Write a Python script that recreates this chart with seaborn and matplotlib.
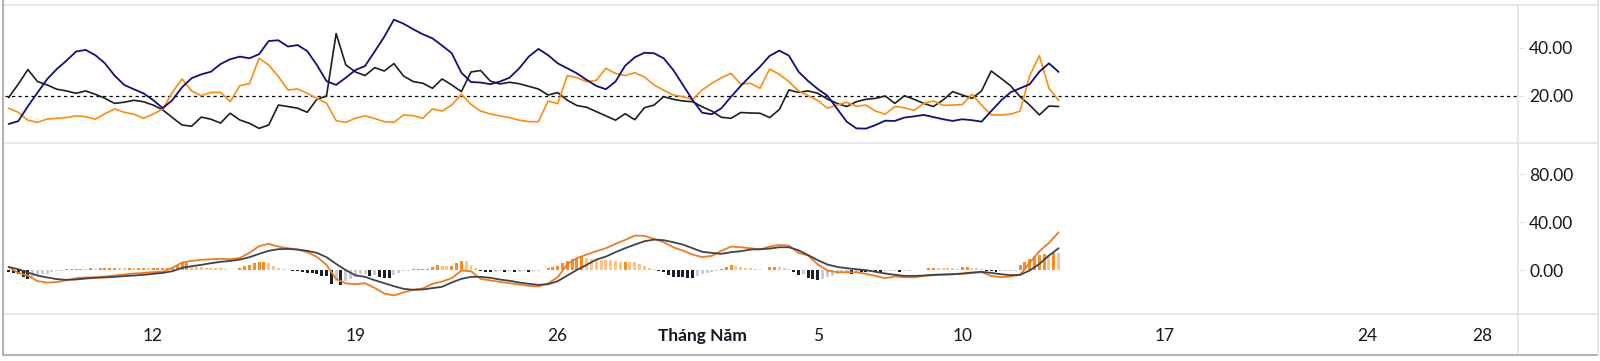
import numpy as np
import pandas as pd
import matplotlib
matplotlib.use("Agg")
import matplotlib.pyplot as plt
import matplotlib.dates as mdates
from matplotlib.lines import Line2D
import seaborn as sns

W, H = 1600, 361

# ─────────────────────────────────────────────
# Data
# lines: one value every 8h, histogram: one bar every 4h
# ─────────────────────────────────────────────
LINE_START = "2024-04-07 00:00"
HIST_START = "2024-04-07 00:00"

di_navy = [
    8.3, 9.5, 15.7, 21.4, 27.0, 31.2, 34.7, 38.5, 39.2, 37.0,
    33.6, 28.5, 24.6, 22.8, 21.1, 18.3, 14.9, 18.3, 23.6, 27.4,
    29.0, 30.1, 33.3, 35.3, 36.4, 35.7, 37.4, 42.9, 43.2, 40.6,
    41.2, 38.7, 32.9, 26.2, 24.6, 27.6, 30.8, 32.5, 38.5, 44.7,
    51.8, 50.1, 47.8, 45.7, 44.0, 41.0, 37.8, 29.7, 25.8, 25.6,
    24.9, 26.0, 27.6, 31.5, 36.4, 39.6, 37.0, 33.6, 31.5, 29.4,
    26.7, 24.2, 22.8, 26.0, 32.6, 36.1, 38.0, 37.8, 35.7, 30.8,
    24.6, 18.3, 13.0, 12.4, 14.9, 19.7, 24.2, 28.3, 32.2, 36.7,
    38.9, 36.8, 30.1, 26.2, 22.9, 20.1, 14.7, 9.3, 6.5, 6.4,
    7.9, 9.7, 9.6, 11.0, 11.5, 12.1, 11.2, 10.3, 9.6, 10.3,
    9.9, 9.3, 13.7, 18.0, 21.5, 23.2, 24.9, 30.1, 33.6, 30.0,
]
di_orange = [
    14.9, 13.2, 9.9, 9.0, 10.4, 10.7, 11.0, 11.7, 11.4, 10.3,
    12.6, 14.6, 13.2, 12.4, 10.7, 12.4, 14.6, 21.5, 27.1, 22.1,
    20.1, 21.5, 21.5, 17.6, 24.3, 25.1, 35.7, 32.9, 28.1, 22.5,
    22.9, 21.1, 19.0, 17.0, 9.7, 9.0, 10.7, 11.7, 10.6, 9.3,
    9.0, 12.1, 11.8, 10.7, 14.6, 13.7, 16.2, 20.7, 16.5, 13.7,
    12.5, 11.7, 11.0, 9.9, 9.3, 9.3, 17.9, 16.8, 28.5, 27.6,
    26.0, 26.5, 31.5, 29.4, 28.5, 29.7, 27.9, 24.6, 22.4, 20.4,
    19.7, 18.5, 22.5, 25.3, 27.6, 29.4, 24.9, 25.3, 23.2, 31.2,
    29.0, 26.0, 22.1, 20.1, 18.1, 14.9, 16.2, 17.4, 15.7, 16.2,
    13.7, 12.4, 15.6, 15.1, 14.0, 16.9, 17.9, 16.1, 16.2, 16.4,
    20.7, 16.2, 12.1, 12.1, 12.4, 13.7, 28.5, 36.8, 23.2, 18.1,
]
di_black = [
    19.3, 24.9, 31.0, 26.0, 24.6, 22.8, 22.1, 21.1, 22.1, 20.7,
    19.0, 16.9, 17.4, 18.2, 17.6, 16.2, 14.2, 11.0, 7.9, 7.4,
    11.2, 10.3, 8.7, 12.8, 10.0, 8.6, 6.5, 7.9, 16.2, 15.6,
    14.9, 13.2, 18.6, 20.0, 46.0, 33.0, 30.0, 28.5, 31.8, 30.4,
    33.5, 28.3, 26.0, 25.3, 23.2, 27.1, 24.6, 21.8, 30.0, 30.6,
    26.2, 25.0, 25.7, 25.1, 24.0, 22.9, 20.4, 21.4, 18.2, 16.0,
    15.3, 13.5, 11.7, 9.9, 12.6, 10.1, 15.1, 16.2, 19.7, 18.6,
    17.9, 17.6, 15.5, 13.7, 11.1, 10.7, 13.1, 12.9, 12.8, 11.0,
    14.3, 22.5, 21.5, 22.1, 21.1, 18.7, 16.9, 15.6, 17.6, 18.6,
    19.0, 20.0, 16.9, 20.1, 18.6, 16.9, 15.6, 18.3, 21.8, 20.4,
    19.0, 22.1, 30.4, 27.4, 24.3, 19.7, 16.2, 12.1, 15.8, 15.6,
]
macd_line = [
    2.5, -2.4, -4.6, -9.3, -10.4, -10.1, -8.5, -6.8, -6.2, -6.0,
    -5.4, -4.6, -3.7, -2.9, -2.4, -1.8, -1.3, 1.8, 6.2, 7.6,
    8.5, 9.0, 9.3, 9.0, 10.1, 14.3, 19.9, 21.8, 19.6, 18.2,
    17.1, 14.9, 11.0, 4.3, -7.4, -11.2, -11.8, -11.0, -14.9, -19.6,
    -21.2, -18.7, -16.5, -15.4, -11.5, -9.6, -6.8, -0.5, -1.0, -7.4,
    -8.7, -9.9, -11.0, -12.1, -13.2, -13.7, -11.2, -6.0, 4.9, 9.9,
    12.9, 15.7, 18.2, 21.8, 25.1, 28.7, 28.5, 26.0, 23.2, 19.0,
    16.2, 12.9, 10.8, 11.8, 16.0, 19.6, 19.0, 18.2, 17.1, 19.6,
    21.0, 20.4, 14.3, 12.1, 4.6, -0.4, -1.8, -1.8, -1.8, -3.2,
    -4.9, -6.8, -5.4, -6.0, -6.2, -4.9, -4.3, -4.0, -3.5, -3.2,
    -2.6, -1.8, -4.9, -6.0, -5.4, -4.0, 6.0, 15.7, 22.6, 31.5,
]
signal_line = [
    2.6, 0.7, -2.1, -4.6, -6.2, -7.6, -8.2, -7.9, -7.1, -6.5,
    -6.2, -5.7, -5.1, -4.6, -4.0, -3.2, -2.4, -1.0, 1.8, 3.2,
    4.3, 5.7, 6.8, 7.6, 8.7, 10.7, 13.5, 16.0, 17.4, 17.6,
    17.1, 16.0, 14.3, 10.7, 5.1, -0.1, -4.4, -5.7, -8.5, -11.0,
    -13.5, -15.7, -16.5, -16.2, -15.1, -14.0, -10.4, -7.4, -5.7, -5.7,
    -6.5, -7.9, -9.0, -10.4, -11.5, -12.4, -11.8, -9.3, -4.6, 0.1,
    4.3, 8.7, 11.2, 14.9, 18.2, 21.2, 24.0, 25.4, 24.9, 23.2,
    21.2, 18.2, 15.2, 14.3, 13.5, 14.9, 15.7, 17.1, 17.4, 17.9,
    19.0, 19.0, 16.5, 12.4, 8.2, 4.6, 2.6, 1.5, 0.7, -0.1,
    -1.5, -2.9, -4.0, -4.9, -4.9, -4.6, -4.0, -3.7, -3.5, -2.9,
    -2.1, -1.5, -2.4, -3.5, -4.3, -4.0, -0.4, 5.1, 12.1, 18.2,
]
macd_hist = [
    -1.5, -2.5, -3.5, -6.0, -7.4, -6.0, -4.2, -3.6, -3.2, -2.0,
    -1.1, -0.4, 0.6, 0.9, 1.0, 1.2, 1.1, 1.3, 1.2, 1.4,
    1.5, 1.7, 2.0, 1.6, 1.5, 1.6, 1.4, 1.5, 1.6, 1.4,
    1.5, 1.6, 1.7, 1.9, 2.8, 4.2, 5.6, 6.2, 3.2, 2.6,
    2.3, 1.8, 1.7, 1.5, 1.3, 0.7, 0.2, 0.1, 1.6, 3.1,
    4.2, 5.6, 6.4, 7.0, 5.8, 3.6, 1.5, 0.6, 0.2, -0.6,
    -1.0, -1.4, -2.2, -2.8, -3.6, -4.6, -5.2, -11.5, -8.8, -12.4,
    -9.0, -7.4, -5.5, -3.5, -3.0, -5.2, -4.4, -6.2, -6.6, -6.9,
    -4.2, -2.2, -1.2, -0.4, 0.5, 0.7, 0.9, 1.0, 2.9, 4.3,
    3.2, 3.0, 3.7, 6.0, 7.9, 7.6, 4.3, 1.5, -0.5, -1.8,
    -1.9, -1.6, -1.2, -1.8, -1.2, -1.8, -1.3, -1.1, -1.6, -1.0,
    -0.6, -0.2, 1.8, 2.3, 3.6, 5.8, 7.6, 9.3, 10.2, 10.8,
    10.2, 9.3, 8.5, 8.4, 8.3, 8.0, 7.9, 6.6, 6.8, 6.6,
    6.5, 5.2, 3.1, 1.5, 0.7, -1.0, -1.8, -4.0, -5.8, -6.1,
    -6.2, -6.3, -6.4, -4.6, -3.3, -2.5, -1.8, -0.6, 0.8, 2.5,
    3.8, 3.0, 2.2, 1.8, 1.5, 1.0, 0.5, 0.3, 2.2, 2.4,
    2.2, 1.8, 0.8, -2.0, -4.5, -3.5, -6.5, -7.2, -8.6, -7.5,
    -6.0, -4.6, -3.6, -2.5, -1.7, -3.2, -1.5, -1.8, -2.0, -1.6,
    -1.9, -2.0, -1.2, -1.0, -0.8, -1.4, -0.8, -0.4, -0.2, 0.2,
    0.4, 1.7, 1.8, 1.6, 1.5, 1.4, 1.3, 0.9, 2.4, 2.7,
    2.1, 1.8, 1.0, -0.8, -1.2, -1.4, -0.9, -0.8, -0.6, -0.4,
    4.3, 7.0, 9.3, 11.5, 12.6, 13.4, 12.6, 14.3, 14.2,
]

tick_dates = ["2024-04-12", "2024-04-19", "2024-04-26", "2024-05-01",
              "2024-05-05", "2024-05-10", "2024-05-17", "2024-05-24", "2024-05-28"]
tick_labels = ["12", "19", "26", "Tháng Năm", "5", "10", "17", "24", "28"]
top_ticks = [20, 40]
bottom_ticks = [0, 40, 80]

# ─────────────────────────────────────────────
# Styling
# ─────────────────────────────────────────────
C_NAVY = "#0f0f80"
C_ORANGE = "#ff8c0a"
C_BLACK = "#1e1e1e"
C_MACD = "#f57a1c"
C_SIGNAL = "#40434e"
HIST_COLORS = {
    "pos_up": "#ff8a1e",
    "pos_down": "#ffc382",
    "neg_down": "#1c1f2c",
    "neg_up": "#c9ccd6",
}
GRID = "#e0e3eb"
FRAME = "#b4b4b4"
TEXT = "#131722"
FONT_SIZE = 12.5

sns.set_style("white")
plt.rcParams["font.family"] = ["Lato", "DejaVu Sans"]


def px_x(x):
    return x / W


def px_y(y):
    return 1 - y / H


line_x = mdates.date2num(pd.date_range(LINE_START, periods=len(di_navy), freq="8h"))
hist_x = mdates.date2num(pd.date_range(HIST_START, periods=len(macd_hist), freq="4h"))

h = np.array(macd_hist)
rising = np.r_[False, h[1:] > h[:-1]]
kind = np.where(h >= 0,
                np.where(rising, "pos_up", "pos_down"),
                np.where(rising, "neg_up", "neg_down"))
hist_df = pd.DataFrame({"x": hist_x, "h": h, "kind": kind})

xlim = (mdates.date2num(pd.Timestamp("2024-04-06 21:00")),
        mdates.date2num(pd.Timestamp("2024-05-29 05:30")))

fig = plt.figure(figsize=(W / 100, H / 100), dpi=100)
ax_top = fig.add_axes([px_x(5), px_y(143), px_x(1513), (143 - 5) / H])
ax_bot = fig.add_axes([px_x(5), px_y(314), px_x(1513), (314 - 143) / H])

# ── top panel: DMI lines ──
ax_top.axhline(20, color="black", lw=0.9, ls=(0, (2.6, 2.6)), zorder=1)
sns.lineplot(x=line_x, y=di_black, color=C_BLACK, lw=1.2, ax=ax_top)
sns.lineplot(x=line_x, y=di_orange, color=C_ORANGE, lw=1.2, ax=ax_top)
sns.lineplot(x=line_x, y=di_navy, color=C_NAVY, lw=1.3, ax=ax_top)
ax_top.set_ylim(0.4, 57.9)

# ── bottom panel: MACD ──
sns.barplot(data=hist_df, x="x", y="h", hue="kind", palette=HIST_COLORS,
            native_scale=True, dodge=False, width=0.62, linewidth=0,
            saturation=1, errorbar=None, legend=False, ax=ax_bot)
sns.lineplot(x=line_x, y=macd_line, color=C_MACD, lw=1.3, ax=ax_bot)
sns.lineplot(x=line_x, y=signal_line, color=C_SIGNAL, lw=1.3, ax=ax_bot)
ax_bot.set_ylim(-36.7, 106)

for ax, ticks in ((ax_top, top_ticks), (ax_bot, bottom_ticks)):
    ax.set_xlim(*xlim)
    ax.set_facecolor("none")
    for s in ax.spines.values():
        s.set_visible(False)
    ax.set_xlabel("")
    ax.set_ylabel("")
    ax.yaxis.tick_right()
    ax.set_yticks(ticks)
    ax.set_yticklabels([f"{v:.2f}" for v in ticks])
    ax.tick_params(axis="y", length=4, width=0.8, color=GRID, pad=4,
                   labelsize=FONT_SIZE, labelcolor=TEXT)

ax_top.set_xticks([])
ax_bot.set_xticks(mdates.date2num(pd.to_datetime(tick_dates)))
ax_bot.set_xticklabels(tick_labels)
ax_bot.tick_params(axis="x", length=4, width=0.8, color=GRID, pad=6,
                   labelsize=FONT_SIZE, labelcolor=TEXT)
for lbl in ax_bot.get_xticklabels():
    if lbl.get_text() == "Tháng Năm":
        lbl.set_fontweight("bold")

# ── panel separators and outer frame ──
for y in (5, 143, 314):
    fig.add_artist(Line2D([px_x(3), px_x(1598)], [px_y(y), px_y(y)], color=GRID, lw=1.2))
fig.add_artist(Line2D([px_x(1518), px_x(1518)], [px_y(5), px_y(355)], color=GRID, lw=1.2))
fig.add_artist(Line2D([px_x(3), px_x(3)], [px_y(0), px_y(355)], color=FRAME, lw=1.5))
fig.add_artist(Line2D([px_x(3), px_x(1598)], [px_y(355), px_y(355)], color=FRAME, lw=1.5))
fig.add_artist(Line2D([px_x(1598), px_x(1598)], [px_y(0), px_y(355)], color=GRID, lw=1.2))

fig.savefig("out.png", dpi=100)
plt.close(fig)
